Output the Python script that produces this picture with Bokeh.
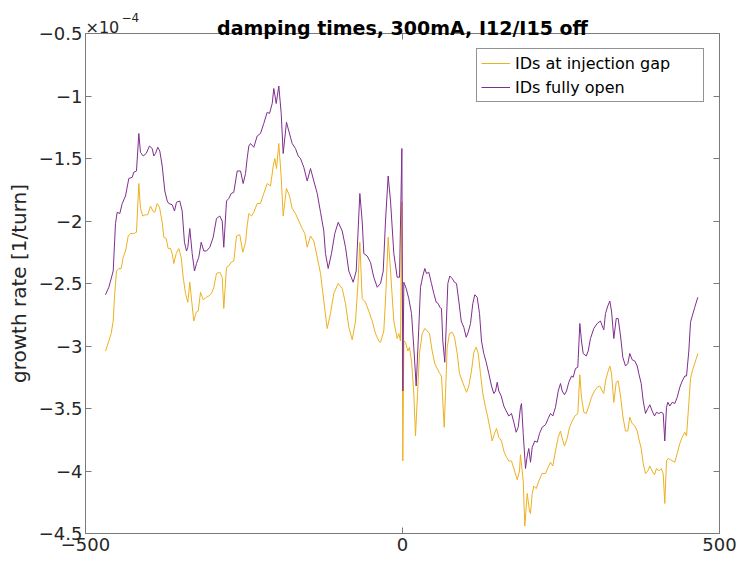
from bokeh.plotting import figure
from bokeh.models import (LinearAxis, FixedTicker, CustomJSTickFormatter, Legend,
                          LegendItem, Label, Range1d)
from bokeh.embed import file_html
from bokeh.resources import INLINE

# ---------------- data (growth rate, in units of 1e-4 per turn) ----------------
pos_open = [-468.5, -463.2, -456.3, -452.7, -450.0, -445.9, -442.1, -436.9, -431.7, -426.3,
            -423.8, -419.6, -415.9, -413.3, -409.0, -404.3, -399.1, -394.8, -392.3, -389.6,
            -386.0, -382.8, -379.0, -374.9, -371.1, -368.6, -363.3, -359.6, -356.5, -351.3,
            -347.5, -343.9, -340.7, -338.6, -335.5, -331.7, -328.1, -324.9, -321.3, -317.5,
            -313.4, -309.2, -303.9, -298.6, -293.4, -288.2, -284.4, -281.9, -277.6, -274.0,
            -270.2, -266.1, -260.7, -255.5, -251.3, -247.6, -245.0, -242.4, -239.7, -234.5,
            -229.2, -224.0, -218.8, -213.4, -209.8, -205.5, -203.0, -199.2, -195.1, -191.3,
            -188.2, -183.0, -179.3, -174.0, -168.8, -164.5, -160.9, -155.7, -150.3, -145.1,
            -139.9, -134.5, -129.3, -124.1, -121.5, -117.2, -112.0, -106.8, -101.4, -95.1,
            -89.9, -84.7, -77.8, -73.0, -67.3, -63.6, -61.0, -55.7, -50.5, -45.3,
            -39.9, -34.7, -30.4, -26.8, -22.6, -18.9, -13.7, -8.4, -4.7, -1.0,
            0.5, 2.1, 5.8, 9.9, 14.2, 17.8, 21.6, 24.8, 28.4, 32.0,
            35.2, 37.9, 41.5, 45.7, 49.4, 53.2, 56.3, 58.8, 61.5, 63.6,
            66.7, 68.9, 71.5, 74.6, 78.4, 82.0, 85.2, 88.8, 92.6, 96.7,
            100.5, 103.6, 107.3, 110.9, 114.0, 117.8, 121.5, 124.6, 128.2, 132.0,
            136.1, 140.4, 144.0, 146.7, 149.4, 151.9, 155.7, 159.8, 163.6, 167.7,
            171.9, 175.6, 179.3, 182.5, 186.1, 187.7, 190.4, 194.0, 196.7, 199.2,
            201.9, 204.6, 208.7, 212.5, 216.1, 220.3, 225.6, 229.8, 233.4, 237.1,
            241.3, 245.6, 249.2, 251.9, 255.5, 258.7, 262.3, 266.6, 269.2, 272.9,
            276.5, 279.7, 282.3, 285.0, 289.8, 292.9, 296.5, 301.7, 307.1, 312.3,
            315.0, 317.5, 320.2, 323.8, 327.0, 329.7, 333.3, 337.1, 340.2, 343.9,
            347.5, 351.7, 355.4, 358.5, 362.3, 366.4, 370.2, 372.7, 376.5, 379.7,
            383.3, 386.9, 390.1, 393.8, 397.5, 400.6, 404.3, 408.0, 411.2, 413.7,
            416.4, 418.5, 421.6, 425.4, 429.5, 433.3, 437.4, 441.2, 445.3, 448.0,
            451.6, 454.3, 457.0, 461.0, 465.8]
rate_open = [-2.59, -2.53, -2.40, -2.02, -1.93, -1.94, -1.86, -1.80, -1.66, -1.65,
             -1.61, -1.60, -1.30, -1.45, -1.48, -1.46, -1.40, -1.42, -1.48, -1.46,
             -1.41, -1.44, -1.56, -1.76, -1.84, -1.86, -1.87, -1.92, -1.85, -1.84,
             -1.92, -2.17, -2.24, -2.21, -2.06, -2.26, -2.40, -2.34, -2.29, -2.17,
             -2.24, -2.24, -2.21, -2.13, -1.98, -1.96, -2.00, -2.21, -1.84, -1.82,
             -1.78, -1.77, -1.60, -1.60, -1.70, -1.62, -1.50, -1.40, -1.38, -1.41,
             -1.32, -1.30, -1.22, -1.13, -1.14, -1.06, -0.94, -1.06, -0.92, -1.14,
             -1.46, -1.21, -1.28, -1.38, -1.42, -1.48, -1.50, -1.57, -1.68, -1.58,
             -1.68, -1.78, -1.93, -2.08, -2.26, -2.38, -2.26, -2.10, -2.01, -2.08,
             -2.21, -2.40, -2.49, -2.40, -1.78, -2.00, -2.26, -2.28, -2.33, -2.45,
             -2.53, -2.50, -2.40, -2.00, -1.64, -1.84, -2.26, -2.45, -2.45, -1.42,
             -3.36, -2.49, -2.54, -2.62, -2.74, -3.01, -3.32, -2.96, -2.53, -2.44,
             -2.38, -2.42, -2.41, -2.50, -2.58, -2.65, -2.66, -2.69, -2.70, -2.96,
             -3.13, -2.85, -2.50, -2.44, -2.46, -2.49, -2.50, -2.64, -2.80, -2.85,
             -2.93, -2.89, -2.82, -2.66, -2.59, -2.61, -2.74, -2.96, -3.06, -3.13,
             -3.22, -3.32, -3.38, -3.36, -3.29, -3.36, -3.40, -3.48, -3.52, -3.56,
             -3.54, -3.61, -3.69, -3.65, -3.49, -3.46, -3.70, -3.98, -3.88, -3.82,
             -3.93, -3.81, -3.76, -3.77, -3.70, -3.65, -3.63, -3.58, -3.54, -3.56,
             -3.49, -3.36, -3.30, -3.36, -3.39, -3.36, -3.29, -3.24, -3.25, -3.18,
             -3.17, -2.82, -2.96, -3.06, -3.08, -3.04, -2.94, -2.86, -2.82, -2.80,
             -2.84, -2.87, -2.74, -2.68, -2.64, -2.72, -2.94, -2.78, -2.78, -2.92,
             -3.09, -3.16, -3.14, -3.06, -3.11, -3.12, -3.16, -3.22, -3.30, -3.44,
             -3.54, -3.50, -3.47, -3.52, -3.56, -3.53, -3.54, -3.53, -3.54, -3.76,
             -3.49, -3.45, -3.48, -3.45, -3.46, -3.41, -3.33, -3.28, -3.24, -3.24,
             -3.04, -2.81, -2.76, -2.69, -2.61]

pos_gap = [-468.5, -463.2, -459.5, -456.3, -454.3, -451.1, -447.5, -443.7, -440.6, -436.9,
           -432.6, -429.0, -423.8, -419.6, -415.9, -413.3, -409.6, -405.4, -401.7, -397.5,
           -393.8, -390.7, -386.9, -383.3, -379.0, -376.5, -372.7, -369.6, -365.9, -363.3,
           -360.7, -356.9, -352.8, -349.1, -345.9, -342.3, -338.6, -335.5, -332.3, -329.2,
           -325.4, -322.2, -318.6, -314.3, -309.2, -305.5, -301.3, -297.6, -293.4, -288.2,
           -284.4, -281.9, -277.6, -274.0, -270.2, -266.1, -261.8, -256.6, -251.9, -247.6,
           -245.0, -242.4, -238.2, -234.5, -229.2, -224.0, -218.8, -213.4, -208.2, -203.9,
           -201.4, -198.7, -195.1, -191.3, -188.2, -183.0, -178.2, -174.0, -168.8, -163.6,
           -158.2, -154.1, -150.3, -145.1, -139.9, -134.5, -129.3, -124.1, -118.8, -113.6,
           -108.4, -101.4, -95.1, -89.9, -84.7, -79.3, -74.1, -70.2, -67.3, -63.6,
           -58.4, -53.2, -47.8, -42.6, -37.4, -34.7, -29.5, -26.0, -22.6, -18.9,
           -13.7, -8.4, -5.8, -3.2, -1.0, 0.5, 2.1, 4.7, 8.4, 11.0,
           14.2, 17.8, 20.5, 23.7, 26.8, 31.1, 35.2, 39.0, 42.6, 46.8,
           50.9, 54.7, 58.8, 61.5, 63.6, 65.8, 67.8, 70.5, 74.1, 78.4,
           82.0, 86.3, 89.9, 94.2, 97.8, 100.9, 104.6, 108.8, 112.5, 116.2,
           119.4, 123.0, 126.7, 130.9, 134.5, 138.8, 141.4, 145.1, 148.3, 151.9,
           156.2, 159.8, 164.0, 167.7, 171.9, 175.6, 180.9, 184.5, 186.1, 190.4,
           192.9, 196.7, 200.3, 201.9, 204.6, 207.1, 210.9, 215.0, 220.3, 225.6,
           229.8, 233.4, 237.1, 241.3, 245.6, 249.2, 251.9, 255.5, 259.7, 263.4,
           267.6, 271.8, 276.5, 279.7, 282.3, 286.0, 289.8, 293.9, 298.1, 302.8,
           307.1, 311.2, 315.0, 317.5, 320.2, 323.8, 327.0, 329.7, 333.3, 337.1,
           340.2, 343.9, 347.5, 351.7, 355.4, 358.5, 362.3, 366.4, 370.2, 372.7,
           376.5, 379.7, 383.3, 386.9, 390.1, 393.8, 397.5, 400.6, 404.3, 408.0,
           411.2, 413.7, 416.4, 419.0, 422.7, 426.3, 429.5, 433.3, 437.4, 441.2,
           445.3, 448.0, 451.6, 454.3, 457.0, 461.0, 465.8]
rate_gap = [-3.04, -2.96, -2.90, -2.80, -2.61, -2.40, -2.38, -2.38, -2.29, -2.24,
            -2.12, -2.10, -2.10, -2.09, -1.70, -1.90, -1.96, -1.95, -1.95, -1.88,
            -1.92, -1.93, -1.86, -1.89, -2.01, -2.13, -2.14, -2.22, -2.22, -2.26,
            -2.34, -2.26, -2.22, -2.29, -2.45, -2.58, -2.65, -2.49, -2.65, -2.80,
            -2.73, -2.72, -2.57, -2.63, -2.61, -2.60, -2.58, -2.53, -2.42, -2.41,
            -2.45, -2.70, -2.37, -2.36, -2.33, -2.32, -2.12, -2.11, -2.25, -2.17,
            -2.04, -1.94, -1.96, -1.93, -1.86, -1.86, -1.78, -1.70, -1.72, -1.56,
            -1.50, -1.58, -1.38, -1.65, -1.96, -1.74, -1.80, -1.90, -1.94, -2.00,
            -2.06, -2.10, -2.21, -2.12, -2.16, -2.29, -2.42, -2.64, -2.86, -2.74,
            -2.58, -2.50, -2.54, -2.66, -2.85, -2.95, -2.80, -2.50, -2.17, -2.62,
            -2.65, -2.72, -2.80, -2.90, -2.96, -2.97, -2.88, -2.55, -2.13, -2.40,
            -2.80, -2.94, -2.90, -2.96, -1.85, -3.92, -2.96, -2.97, -3.04, -3.01,
            -3.12, -3.38, -3.72, -3.38, -3.06, -2.90, -2.86, -2.88, -2.90, -3.04,
            -3.14, -3.18, -3.22, -3.24, -3.44, -3.65, -3.38, -3.01, -2.90, -2.89,
            -2.93, -3.06, -3.22, -3.28, -3.33, -3.37, -3.32, -3.20, -3.05, -3.01,
            -3.06, -3.22, -3.38, -3.49, -3.57, -3.68, -3.76, -3.70, -3.66, -3.73,
            -3.76, -3.84, -3.89, -3.92, -3.92, -3.98, -4.07, -4.00, -3.87, -4.08,
            -4.44, -4.18, -4.32, -4.34, -4.18, -4.12, -4.14, -4.08, -4.02, -4.02,
            -3.97, -3.93, -3.96, -3.84, -3.73, -3.68, -3.74, -3.80, -3.74, -3.65,
            -3.60, -3.56, -3.54, -3.23, -3.41, -3.53, -3.54, -3.48, -3.41, -3.36,
            -3.33, -3.32, -3.36, -3.38, -3.28, -3.21, -3.16, -3.22, -3.45, -3.29,
            -3.28, -3.40, -3.56, -3.68, -3.68, -3.57, -3.62, -3.64, -3.68, -3.74,
            -3.82, -3.94, -4.02, -4.00, -3.96, -4.00, -4.03, -3.98, -4.00, -3.98,
            -4.02, -4.26, -3.92, -3.90, -3.91, -3.92, -3.93, -3.86, -3.78, -3.73,
            -3.69, -3.72, -3.46, -3.26, -3.20, -3.14, -3.06]

x_ticks = [-500, 0, 500]
y_ticks = [-4.5, -4.0, -3.5, -3.0, -2.5, -2.0, -1.5, -1.0, -0.5]
x_lim = (-500, 500)
y_lim = (-4.5, -0.5)
series_labels = ["IDs at injection gap", "IDs fully open"]
title_text = "damping times, 300mA, I12/I15 off"
y_label = "growth rate [1/turn]"

# ---------------- layout / styling ----------------
W, H = 739, 561
BOX_L, BOX_R, BOX_T, BOX_B = 85, 719, 33, 533   # axes box inside the canvas, px
FONT = "DejaVu Sans"
AX = "#7a7a7a"
TXT = "#262626"
C_GAP = "#EDB120"
C_OPEN = "#7E2F8E"

# the whole canvas is the plotting frame; axes are pinned at the box edges
sx = (BOX_R - BOX_L) / (x_lim[1] - x_lim[0])
sy = (BOX_B - BOX_T) / (y_lim[1] - y_lim[0])
xr = Range1d(x_lim[0] - BOX_L / sx, x_lim[1] + (W - BOX_R) / sx)
yr = Range1d(y_lim[0] - (H - BOX_B) / sy, y_lim[1] + BOX_T / sy)

p = figure(width=W, height=H, output_backend="svg", toolbar_location=None, title=None,
           x_range=xr, y_range=yr, x_axis_location=None, y_axis_location=None,
           min_border=0, min_border_left=0, min_border_right=0,
           min_border_top=0, min_border_bottom=0)
p.grid.visible = False
p.outline_line_color = None
p.background_fill_color = "white"
p.border_fill_color = "white"

minus_fmt = CustomJSTickFormatter(code="return String(tick).replace('-', '\u2212');")
blank_fmt = CustomJSTickFormatter(code="return '';")


def make_axis(ticks, fmt, labelled, loc, bounds, standoff):
    return LinearAxis(ticker=FixedTicker(ticks=ticks), formatter=fmt,
                      fixed_location=loc, bounds=bounds,
                      major_tick_in=6, major_tick_out=0, minor_tick_in=0, minor_tick_out=0,
                      axis_line_color=AX, major_tick_line_color=AX,
                      major_label_text_font=FONT,
                      major_label_text_font_size=("18px" if labelled else "0px"),
                      major_label_text_color=TXT,
                      major_label_standoff=standoff, axis_label_standoff=0)


left = make_axis(y_ticks, minus_fmt, True, x_lim[0], y_lim, 3)
left.axis_label = y_label
left.axis_label_text_font = FONT
left.axis_label_text_font_size = "20px"
left.axis_label_text_font_style = "normal"
left.axis_label_text_color = TXT
left.axis_label_standoff = 5
p.add_layout(left, "left")
p.add_layout(make_axis(x_ticks, minus_fmt, True, y_lim[0], x_lim, 4), "below")
p.add_layout(make_axis(y_ticks, blank_fmt, False, x_lim[1], y_lim, 0), "right")
p.add_layout(make_axis(x_ticks, blank_fmt, False, y_lim[1], x_lim, 0), "above")

r_gap = p.line(pos_gap, rate_gap, line_color=C_GAP, line_width=1)
r_open = p.line(pos_open, rate_open, line_color=C_OPEN, line_width=1)

legend = Legend(items=[LegendItem(label=series_labels[0], renderers=[r_gap]),
                       LegendItem(label=series_labels[1], renderers=[r_open])],
                location=(476, H - 102), padding=4, spacing=4, margin=0,
                glyph_width=29, glyph_height=20, label_height=20, label_width=184,
                label_standoff=5, label_text_font=FONT, label_text_font_size="16px",
                label_text_color="#000000",
                border_line_color=TXT, border_line_width=1,
                background_fill_color="white", background_fill_alpha=1)
p.add_layout(legend)

# title and exponent, anchored to the top edge of the axes box
p.add_layout(Label(x=0, y=y_lim[1], text=title_text, text_align="center",
                   text_baseline="alphabetic", y_offset=6,
                   text_font=FONT, text_font_size="19px", text_font_style="bold",
                   text_color="#000000"))
p.add_layout(Label(x=x_lim[0], y=y_lim[1], text="\u00d710", x_offset=0, y_offset=6,
                   text_baseline="alphabetic",
                   text_font=FONT, text_font_size="16px", text_color=TXT))
p.add_layout(Label(x=x_lim[0], y=y_lim[1], text="\u22124", x_offset=36, y_offset=16,
                   text_baseline="alphabetic",
                   text_font=FONT, text_font_size="12px", text_color=TXT))

open("out.html", "w").write(file_html(p, INLINE))
